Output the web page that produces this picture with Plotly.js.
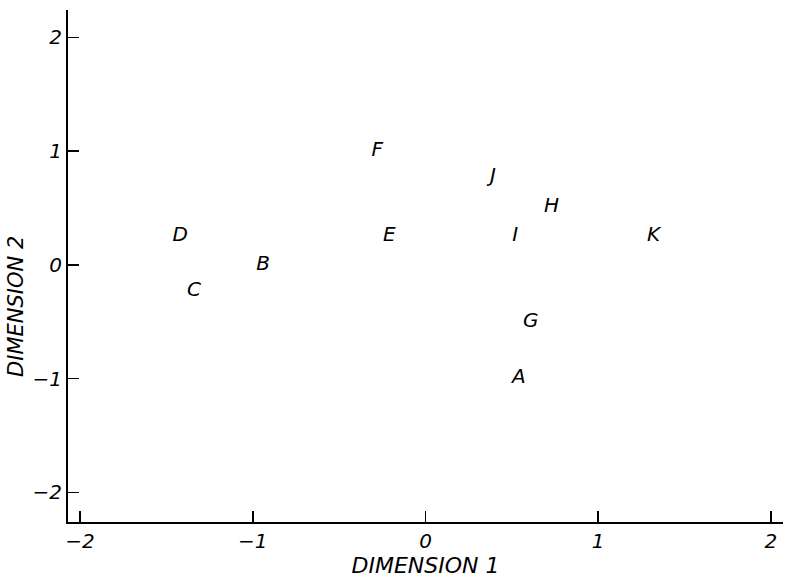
<!DOCTYPE html>
<html>
<head>
<meta charset="utf-8">
<script src="https://cdn.plot.ly/plotly-3.0.1.min.js"></script>
<style>html,body{margin:0;padding:0;background:#fff;}#chart{width:785px;height:578px;}</style>
</head>
<body>
<div id="chart"></div>
<script>
// Stimulus labels and their MDS coordinates
const labels = ["A", "B", "C", "D", "E", "F", "G", "H", "I", "J", "K"];
const dim1 = [0.54, -0.94, -1.34, -1.42, -0.21, -0.28, 0.61, 0.73, 0.52, 0.39, 1.32];
const dim2 = [-0.99, 0.0, -0.23, 0.25, 0.25, 1.0, -0.50, 0.51, 0.25, 0.77, 0.25];
const tickVals = [-2, -1, 0, 1, 2];
const tickText = ["\u22122", "\u22121", "0", "1", "2"];

const fontFamily = "DejaVu Sans, sans-serif";
const trace = {
  type: "scatter",
  mode: "text",
  x: dim1,
  y: dim2,
  text: labels,
  textposition: "middle center",
  textfont: {family: fontFamily, size: 20, color: "#000", style: "italic"},
  hoverinfo: "text",
  showlegend: false
};

const axisCommon = {
  showgrid: false,
  zeroline: false,
  showline: true,
  linecolor: "#000",
  linewidth: 2,
  ticks: "inside",
  ticklen: 11,
  tickwidth: 1.5,
  tickcolor: "#000",
  tickmode: "array",
  tickvals: tickVals,
  ticktext: tickText,
  tickfont: {family: fontFamily, size: 20, color: "#000", style: "italic"},
  mirror: false
};

const layout = {
  width: 785,
  height: 578,
  margin: {l: 68, r: 2, t: 10, b: 56},
  paper_bgcolor: "#fff",
  plot_bgcolor: "#fff",
  xaxis: Object.assign({}, axisCommon, {
    range: [-2.07, 2.07],
    ticklabelstandoff: 0,
    title: {text: "DIMENSION 1", font: {family: fontFamily, size: 22, color: "#000", style: "italic"}, standoff: 2}
  }),
  yaxis: Object.assign({}, axisCommon, {
    range: [-2.26, 2.24],
    title: {text: ""}
  }),
  annotations: [{
    text: "DIMENSION 2",
    textangle: -90,
    xref: "paper", yref: "y",
    x: 0, y: -0.37,
    xshift: -52,
    xanchor: "center", yanchor: "middle",
    showarrow: false,
    font: {family: fontFamily, size: 21, color: "#000", style: "italic"}
  }]
};

Plotly.newPlot("chart", [trace], layout, {displayModeBar: false, staticPlot: true});
</script>
</body>
</html>
